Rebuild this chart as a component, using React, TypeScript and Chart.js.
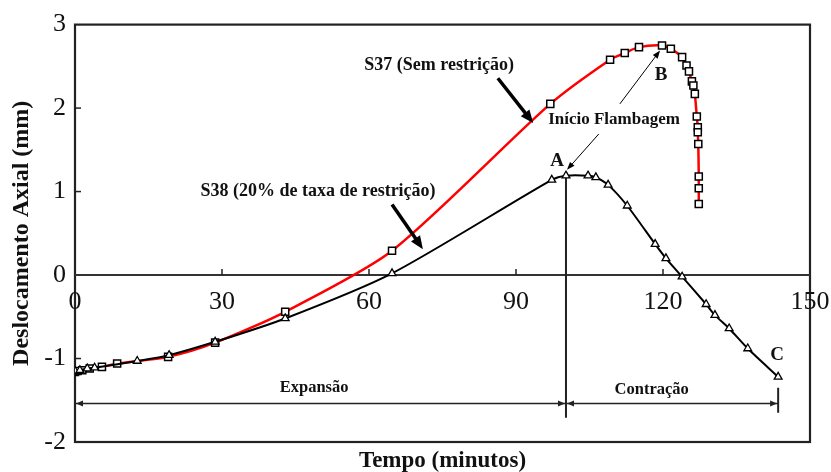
import React, { useEffect, useRef } from "react";
import { Chart, registerables } from "chart.js";
Chart.register(...registerables);

// ---- data ----
const xTickValues = [0, 30, 60, 90, 120, 150];
const yTickValues = [-2, -1, 0, 1, 2, 3];

const s37Time = [0, 0.5, 1.5, 3, 5.5, 8.6, 19, 28.6, 42.9, 64.7, 97, 109.2, 112.2, 115.1, 119.8, 121.6, 123.9, 124.8, 125.3, 125.9, 126.2, 126.5, 126.9, 127.1, 127.1, 127.2, 127.3, 127.3, 127.3];
const s37Disp = [-1.16, -1.15, -1.14, -1.12, -1.1, -1.06, -0.98, -0.81, -0.44, 0.29, 2.05, 2.58, 2.66, 2.73, 2.75, 2.71, 2.61, 2.51, 2.44, 2.32, 2.27, 2.17, 1.9, 1.77, 1.71, 1.57, 1.18, 1.04, 0.85];

const s38Time = [0, 1, 2.5, 4, 12.7, 19.2, 28.6, 42.9, 64.7, 97.3, 100.2, 104.7, 106.3, 108.8, 112.7, 118.4, 120.6, 123.9, 128.8, 130.6, 133.5, 137.3, 143.5];
const s38Disp = [-1.15, -1.14, -1.12, -1.11, -1.03, -0.96, -0.8, -0.52, 0.02, 1.14, 1.19, 1.19, 1.17, 1.08, 0.83, 0.37, 0.2, -0.02, -0.35, -0.48, -0.64, -0.88, -1.22];

// annotation texts
const labelTexts = ["S37 (Sem restrição)", "S38 (20% de taxa de restrição)", "Início Flambagem", "Expansão", "Contração"];
const labelX = [74.3, 49.6, 110, 48.8, 117.7];
const labelY = [2.51, 1.0, 1.86, -1.35, -1.37];
const labelSize = [18, 18, 17, 16.5, 16.5];

const pointLetters = ["A", "B", "C"];
const letterX = [98.4, 119.6, 143.3];
const letterY = [1.36, 2.4, -0.96];

// thick pointer arrows [x1, y1, x2, y2]
const thickArrows = [
  [86.3, 2.357, 93.5, 1.82],
  [64.7, 0.845, 71.0, 0.31],
];
// thin pointer arrows (Início Flambagem)
const thinArrows = [
  [111.2, 2.05, 119.4, 2.69],
  [106.9, 1.69, 100.4, 1.26],
];
// dimension line
const dimY = -1.54;
const dimStart = 0;
const dimSplit = 100.2;
const dimEnd = 143.5;
const splitTop = 1.19;
const splitBottom = -1.71;
const endTop = -1.35;
const endBottom = -1.65;

const SERIF = "'Liberation Serif', 'Times New Roman', serif";

function arrowHead(ctx: CanvasRenderingContext2D, x1: number, y1: number, x2: number, y2: number, len: number, half: number) {
  const a = Math.atan2(y2 - y1, x2 - x1);
  ctx.beginPath();
  ctx.moveTo(x2, y2);
  ctx.lineTo(x2 - len * Math.cos(a) + half * Math.sin(a), y2 - len * Math.sin(a) - half * Math.cos(a));
  ctx.lineTo(x2 - len * Math.cos(a) - half * Math.sin(a), y2 - len * Math.sin(a) + half * Math.cos(a));
  ctx.closePath();
  ctx.fill();
}

function arrow(ctx: CanvasRenderingContext2D, x1: number, y1: number, x2: number, y2: number, w: number, len: number, half: number) {
  const a = Math.atan2(y2 - y1, x2 - x1);
  ctx.lineWidth = w;
  ctx.beginPath();
  ctx.moveTo(x1, y1);
  ctx.lineTo(x2 - len * 0.8 * Math.cos(a), y2 - len * 0.8 * Math.sin(a));
  ctx.stroke();
  arrowHead(ctx, x1, y1, x2, y2, len, half);
}

const decorPlugin = {
  id: "decor",
  beforeDatasetsDraw(chart: any) {
    const ctx: CanvasRenderingContext2D = chart.ctx;
    const { left, right, top, bottom } = chart.chartArea;
    const xs = chart.scales.x;
    const ys = chart.scales.y;
    ctx.save();
    ctx.strokeStyle = "#222";
    ctx.fillStyle = "#111";
    ctx.lineWidth = 2.2;
    ctx.strokeRect(left, top, right - left, bottom - top);
    const y0 = ys.getPixelForValue(0);
    ctx.lineWidth = 2;
    ctx.strokeStyle = "#333";
    ctx.beginPath();
    ctx.moveTo(left, y0);
    ctx.lineTo(right, y0);
    ctx.stroke();
    // tick marks
    ctx.lineWidth = 1.5;
    ctx.strokeStyle = "#222";
    xTickValues.forEach((v) => {
      if (v === 0 || v === 150) return;
      const px = xs.getPixelForValue(v);
      ctx.beginPath();
      ctx.moveTo(px, y0);
      ctx.lineTo(px, y0 - 6);
      ctx.stroke();
    });
    yTickValues.forEach((v) => {
      if (v === -2 || v === 3 || v === 0) return;
      const py = ys.getPixelForValue(v);
      ctx.beginPath();
      ctx.moveTo(left, py);
      ctx.lineTo(left + 6, py);
      ctx.stroke();
    });
    // x tick labels at y = 0
    ctx.font = `26px ${SERIF}`;
    ctx.textAlign = "center";
    ctx.textBaseline = "middle";
    ctx.fillStyle = "#111";
    xTickValues.forEach((v) => {
      ctx.fillText(String(v), xs.getPixelForValue(v), y0 + 27);
    });
    // dimension line
    ctx.strokeStyle = "#222";
    ctx.fillStyle = "#222";
    ctx.lineWidth = 1.5;
    const dy = ys.getPixelForValue(dimY);
    const dx0 = xs.getPixelForValue(dimStart);
    const dxs = xs.getPixelForValue(dimSplit);
    const dxe = xs.getPixelForValue(dimEnd);
    ctx.beginPath();
    ctx.moveTo(dx0, dy);
    ctx.lineTo(dxe, dy);
    ctx.stroke();
    arrowHead(ctx, dxs, dy, dx0 + 1, dy, 7, 3);
    arrowHead(ctx, dx0, dy, dxs - 1, dy, 7, 3);
    arrowHead(ctx, dxe, dy, dxs + 1, dy, 7, 3);
    arrowHead(ctx, dxs, dy, dxe - 1, dy, 7, 3);
    ctx.lineWidth = 2;
    ctx.beginPath();
    ctx.moveTo(dxs, ys.getPixelForValue(splitTop));
    ctx.lineTo(dxs, ys.getPixelForValue(splitBottom));
    ctx.moveTo(dxe, ys.getPixelForValue(endTop));
    ctx.lineTo(dxe, ys.getPixelForValue(endBottom));
    ctx.stroke();
    ctx.restore();
  },
  afterDatasetsDraw(chart: any) {
    const ctx: CanvasRenderingContext2D = chart.ctx;
    const xs = chart.scales.x;
    const ys = chart.scales.y;
    ctx.save();
    ctx.strokeStyle = "#000";
    ctx.fillStyle = "#000";
    thickArrows.forEach(([a, b, c, d]) => {
      arrow(ctx, xs.getPixelForValue(a), ys.getPixelForValue(b), xs.getPixelForValue(c), ys.getPixelForValue(d), 3.5, 13, 5.5);
    });
    thinArrows.forEach(([a, b, c, d]) => {
      arrow(ctx, xs.getPixelForValue(a), ys.getPixelForValue(b), xs.getPixelForValue(c), ys.getPixelForValue(d), 1, 8, 3);
    });
    ctx.textAlign = "center";
    ctx.textBaseline = "middle";
    ctx.fillStyle = "#111";
    labelTexts.forEach((t, i) => {
      ctx.font = `bold ${labelSize[i]}px ${SERIF}`;
      ctx.fillText(t, xs.getPixelForValue(labelX[i]), ys.getPixelForValue(labelY[i]));
    });
    ctx.font = `bold 19px ${SERIF}`;
    pointLetters.forEach((t, i) => {
      ctx.fillText(t, xs.getPixelForValue(letterX[i]), ys.getPixelForValue(letterY[i]));
    });
    // x axis title
    ctx.font = `bold 23px ${SERIF}`;
    ctx.fillText("Tempo (minutos)", (chart.chartArea.left + chart.chartArea.right) / 2 + 0, chart.chartArea.bottom + 19);
    ctx.restore();
  },
};

export default function App() {
  const ref = useRef<HTMLCanvasElement | null>(null);
  useEffect(() => {
    if (!ref.current) return;
    const chart = new Chart(ref.current, {
      type: "line",
      data: {
        datasets: [
          {
            label: "S38 (20% de taxa de restrição)",
            data: s38Time.map((t, i) => ({ x: t, y: s38Disp[i] })),
            borderColor: "#000",
            borderWidth: 2,
            tension: 0.25,
            pointStyle: "triangle",
            pointRadius: 4.5,
            pointBorderWidth: 1.3,
            pointBorderColor: "#000",
            pointBackgroundColor: "#fff",
          },
          {
            label: "S37 (Sem restrição)",
            data: s37Time.map((t, i) => ({ x: t, y: s37Disp[i] })),
            borderColor: "#ff0000",
            borderWidth: 2.5,
            tension: 0.25,
            pointStyle: "rect",
            pointRadius: 5,
            pointBorderWidth: 1.5,
            pointBorderColor: "#000",
            pointBackgroundColor: "#fff",
          },
        ],
      },
      options: {
        responsive: false,
        animation: false,
        layout: { padding: { top: 22, right: 21, bottom: 30, left: 0 } },
        plugins: { legend: { display: false }, tooltip: { enabled: false } },
        scales: {
          x: { type: "linear", min: 0, max: 150, display: false },
          y: {
            type: "linear",
            min: -2,
            max: 3,
            ticks: { stepSize: 1, color: "#111", font: { family: SERIF, size: 26 }, padding: 9 },
            grid: { display: false, drawTicks: false },
            border: { display: false },
            title: {
              display: true,
              text: "Deslocamento Axial (mm)",
              color: "#111",
              font: { family: SERIF, size: 24, weight: "bold" },
              padding: { top: 7, bottom: 0 },
            },
            afterFit: (scale: any) => {
              scale.width = 75;
            },
          },
        },
      },
      plugins: [decorPlugin],
    });
    return () => chart.destroy();
  }, []);
  return (
    <div style={{ position: "absolute", left: 0, top: 0, width: 831, height: 472, background: "#fff" }}>
      <canvas ref={ref} width={831} height={472} style={{ display: "block" }} />
    </div>
  );
}
